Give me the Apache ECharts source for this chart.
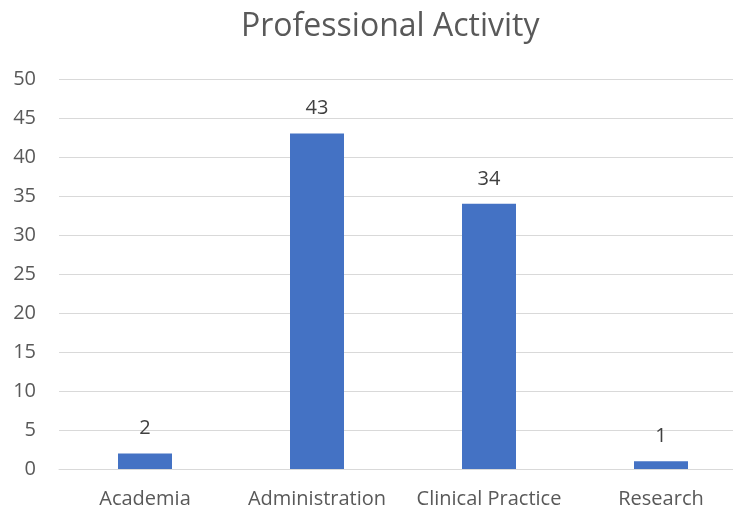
<!DOCTYPE html>
<html><head><meta charset="utf-8">
<script src="https://cdn.jsdelivr.net/npm/echarts@6/dist/echarts.min.js"></script>
<style>html,body{margin:0;padding:0;background:#fff;overflow:hidden;width:733px;height:512px}#c{width:747px;height:512px}</style>
</head><body><div id="c"></div>
<script>
const categories = ["Academia", "Administration", "Clinical Practice", "Research"];
const values = [2, 43, 34, 1];
const titleText = "Professional Activity";
const chart = echarts.init(document.getElementById('c'));
const font = "'Open Sans', 'Noto Sans', sans-serif";
chart.setOption({
  animation: false,
  backgroundColor: '#fff',
  title: { text: titleText, left: 236, top: 6,
    textStyle: { fontFamily: font, fontSize: 32, fontWeight: 'normal', color: '#595959' } },
  grid: { left: 59, right: 0, top: 79, bottom: 43, containLabel: false },
  xAxis: { type: 'category', data: categories,
    axisLine: { lineStyle: { color: '#d9d9d9' } }, axisTick: { show: false },
    axisLabel: { interval: 0, fontFamily: font, fontSize: 20, color: '#595959', margin: 20 } },
  yAxis: { type: 'value', min: 0, max: 50, interval: 5,
    axisLine: { show: false }, axisTick: { show: false },
    splitLine: { lineStyle: { color: '#d9d9d9', width: 1 } },
    axisLabel: { fontFamily: font, fontSize: 20, color: '#595959', margin: 23, align: 'right' } },
  series: [{ type: 'bar', data: values, barWidth: 54, itemStyle: { color: '#4472C4' },
    label: { show: true, position: 'top', distance: 15, fontFamily: font, fontSize: 20, color: '#404040' } }]
});
</script></body></html>
